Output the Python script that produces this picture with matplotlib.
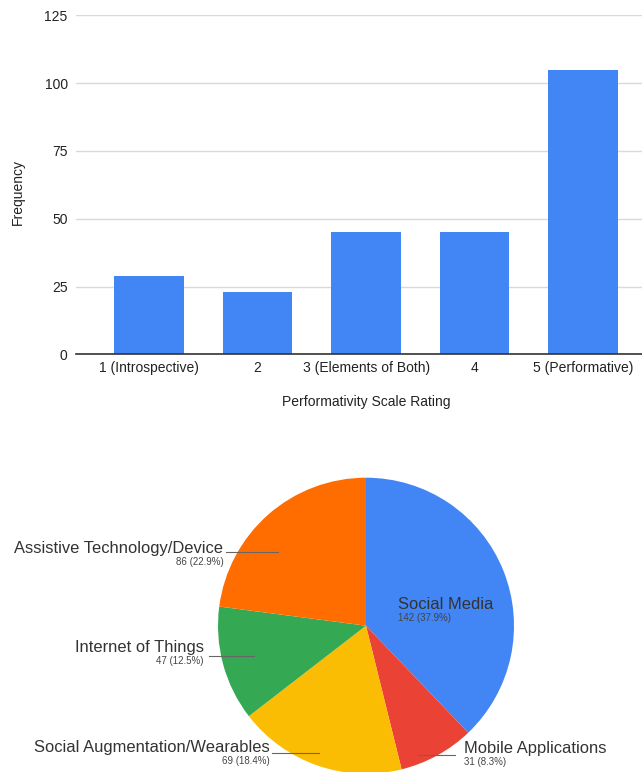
import matplotlib.pyplot as plt
import numpy as np

plt.rcParams["font.family"] = ["Liberation Sans", "DejaVu Sans"]

# bar chart data
ratings = ["1 (Introspective)", "2", "3 (Elements of Both)", "4", "5 (Performative)"]
frequency = [29, 23, 45, 45, 105]
y_ticks = [0, 25, 50, 75, 100, 125]

# pie chart data
categories = [
    "Social Media",
    "Mobile Applications",
    "Social Augmentation/Wearables",
    "Internet of Things",
    "Assistive Technology/Device",
]
counts = [142, 31, 69, 47, 86]
pie_colors = ["#4285F4", "#EA4335", "#FBBC04", "#34A853", "#FF6D01"]

# label placement for the pie, in pie radius units:
# (text x, text baseline y, alignment, leader line (x0, x1, y) or None)
label_layout = [
    (0.218, 0.113, "left", None),
    (0.662, -0.862, "left", (0.353, 0.601, -0.874)),
    (-0.653, -0.851, "right", (-0.637, -0.316, -0.858)),
    (-1.095, -0.176, "right", (-1.059, -0.757, -0.203)),
    (-0.964, 0.493, "right", (-0.948, -0.593, 0.500)),
]

W, H = 642, 772
fig = plt.figure(figsize=(W / 100, H / 100), dpi=100)

# --- bar chart ---
ax = fig.add_axes([76 / W, 1 - 354.3 / H, 566 / W, 339 / H])
x = np.arange(len(ratings))
ax.bar(x, frequency, width=0.64, color="#4285F4", zorder=3)
ax.set_xlim(-0.675, 4.544)
ax.set_ylim(0, 125)
ax.set_yticks(y_ticks)
ax.set_xticks(x)
ax.set_xticklabels(ratings)
ax.grid(axis="y", color="#d9d9d9", linewidth=1, zorder=0)
for side in ["top", "right", "left"]:
    ax.spines[side].set_visible(False)
ax.spines["bottom"].set_color("#333333")
ax.spines["bottom"].set_linewidth(1.2)
ax.spines["bottom"].set_zorder(4)
ax.tick_params(axis="both", length=0, labelsize=10, labelcolor="#222222")
ax.tick_params(axis="x", pad=5)
ax.tick_params(axis="y", pad=6)
ax.set_ylabel("Frequency", fontsize=10, color="#222222")
ax.yaxis.set_label_coords(-0.1025, 0.48)
ax.yaxis.label.set_va("center")
ax.set_xlabel("Performativity Scale Rating", fontsize=10, color="#222222")
ax.xaxis.set_label_coords(0.512, -0.14)
ax.xaxis.label.set_va("center")

# --- pie chart ---
R = 148
cx, cy = 366, 625.7
pax = fig.add_axes([(cx - R) / W, (H - cy - R) / H, 2 * R / W, 2 * R / H])
pax.pie(
    counts,
    colors=pie_colors,
    startangle=90,
    counterclock=False,
    radius=1,
    wedgeprops=dict(edgecolor="none", linewidth=0),
)
pax.set_xlim(-1, 1)
pax.set_ylim(-1, 1)
pax.axis("off")

total = sum(counts)
for name, n, (tx, ty, ha, line) in zip(categories, counts, label_layout):
    pax.text(tx, ty, name, ha=ha, va="baseline", fontsize=11.9, color="#333333")
    pax.text(tx, ty - 0.082, f"{n} ({n / total * 100:.1f}%)", ha=ha, va="baseline",
             fontsize=7, color="#444444")
    if line is not None:
        x0, x1, ly = line
        pax.plot([x0, x1], [ly, ly], color="#666666", linewidth=0.8, clip_on=False)

fig.savefig("out.png", dpi=100)
